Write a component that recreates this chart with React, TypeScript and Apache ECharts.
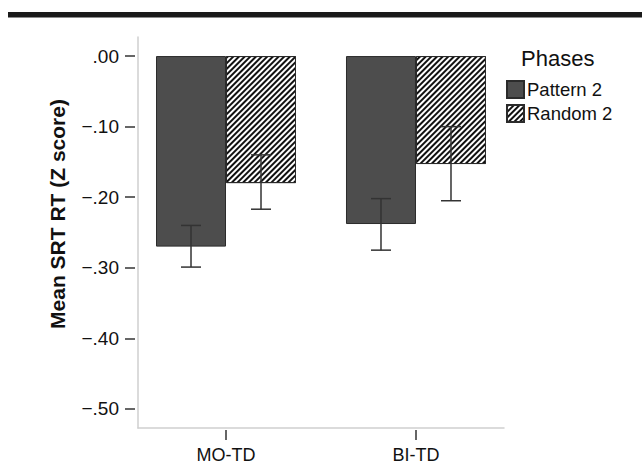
import React, { useEffect, useRef } from "react";
import * as echarts from "echarts";

const categories = ["MO-TD", "BI-TD"];
const seriesNames = ["Pattern 2", "Random 2"];
const pattern2Mean = [-0.27, -0.238];
const pattern2Low = [-0.299, -0.275];
const pattern2High = [-0.24, -0.202];
const random2Mean = [-0.18, -0.153];
const random2Low = [-0.217, -0.205];
const random2High = [-0.14, -0.1];
const yTicks = [0, -0.1, -0.2, -0.3, -0.4, -0.5];
const xTicks = [0, 1];

const FONT = "'Liberation Sans', Arial, Helvetica, sans-serif";
const BAR_W = 70;

function fmtY(v: number): string {
  const s = Math.abs(v).toFixed(2).replace(/^0/, "");
  return v < -1e-9 ? "\u2212" + s : s;
}

export default function App() {
  const ref = useRef<HTMLDivElement>(null);
  useEffect(() => {
    document.body.style.margin = "0";
    if (!ref.current) return;
    const chart = echarts.init(ref.current, null, { renderer: "svg" });
    const yMin = -0.527;
    const yMax = 0.027;
    const xMin = -0.4632;
    const xMax = 1.4632;

    const errRender = (side: number) => (params: any, api: any) => {
      const x = api.value(0);
      const lo = api.coord([x, api.value(1)]);
      const hi = api.coord([x, api.value(2)]);
      const cx = lo[0] + side * (BAR_W / 2);
      const style = { stroke: "#333", lineWidth: 1.5 };
      return {
        type: "group",
        children: [
          { type: "line", shape: { x1: cx, y1: lo[1], x2: cx, y2: hi[1] }, style },
          { type: "line", shape: { x1: cx - 10, y1: lo[1], x2: cx + 10, y2: lo[1] }, style },
          { type: "line", shape: { x1: cx - 10, y1: hi[1], x2: cx + 10, y2: hi[1] }, style },
        ],
      };
    };

    chart.setOption({
      animation: false,
      backgroundColor: "#fff",
      textStyle: { fontFamily: FONT },
      title: {
        text: "Phases",
        left: 521,
        top: 47,
        padding: 0,
        textStyle: { fontSize: 22, fontWeight: "normal", color: "#111", fontFamily: FONT },
      },
      legend: {
        data: seriesNames,
        orient: "vertical",
        left: 506,
        top: 80,
        padding: 0,
        itemWidth: 17,
        itemHeight: 17,
        itemGap: 5,
        icon: "rect",
        textStyle: { fontSize: 18.5, color: "#111", fontFamily: FONT, padding: [0, 0, 0, -2] },
      },
      grid: { left: 138, top: 37, right: 138, bottom: 42, containLabel: false },
      xAxis: [
        {
          type: "value",
          min: xMin,
          max: xMax,
          position: "bottom",
          offset: 2,
          axisLine: { show: false, onZero: false },
          splitLine: { show: false },
          axisTick: { show: true, customValues: xTicks, length: 10, lineStyle: { color: "#333", width: 1.5 } },
          axisLabel: {
            customValues: xTicks,
            formatter: (v: number) => categories[Math.round(v)] ?? "",
            fontSize: 18,
            color: "#111",
            margin: 16,
            fontFamily: FONT,
          },
        },
        {
          type: "value",
          min: xMin,
          max: xMax,
          position: "bottom",
          offset: 0,
          axisLine: { show: true, onZero: false, lineStyle: { color: "#cfcfcf", width: 1.5 } },
          splitLine: { show: false },
          axisTick: { show: false },
          axisLabel: { show: false },
        },
      ],
      yAxis: [
        {
          type: "value",
          min: yMin,
          max: yMax,
          position: "left",
          offset: 3,
          axisLine: { show: false, onZero: false },
          splitLine: { show: false },
          axisTick: { show: true, customValues: yTicks, length: 10, lineStyle: { color: "#333", width: 1.5 } },
          axisLabel: {
            customValues: yTicks,
            formatter: (v: number) => fmtY(v),
            fontSize: 19,
            color: "#111",
            margin: 16,
            fontFamily: FONT,
          },
        },
        {
          type: "value",
          min: yMin,
          max: yMax,
          position: "left",
          offset: 0,
          axisLine: { show: true, onZero: false, lineStyle: { color: "#cfcfcf", width: 1.5 } },
          splitLine: { show: false },
          axisTick: { show: false },
          axisLabel: { show: false },
        },
      ],
      graphic: [
        { type: "rect", shape: { x: 8, y: 12, width: 634, height: 5.5 }, style: { fill: "#1a1a1a" } },
        {
          type: "text",
          x: 57,
          y: 214,
          rotation: Math.PI / 2,
          style: {
            text: "Mean SRT RT (Z score)",
            font: `bold 21px ${FONT}`,
            fill: "#111",
            textAlign: "center",
            textVerticalAlign: "middle",
          },
        },
      ],
      series: [
        {
          name: seriesNames[0],
          type: "bar",
          xAxisIndex: 0,
          yAxisIndex: 0,
          barWidth: BAR_W,
          barGap: "0%",
          data: pattern2Mean.map((v, i) => [xTicks[i], v]),
          itemStyle: { color: "#4d4d4d", borderColor: "#2b2b2b", borderWidth: 1 },
        },
        {
          name: seriesNames[1],
          type: "bar",
          xAxisIndex: 0,
          yAxisIndex: 0,
          barWidth: BAR_W,
          barGap: "0%",
          data: random2Mean.map((v, i) => [xTicks[i], v]),
          itemStyle: {
            color: "#ffffff",
            borderColor: "#2b2b2b",
            borderWidth: 1,
            decal: {
              symbol: "rect",
              symbolSize: 1,
              color: "#111",
              dashArrayX: [1, 0],
              dashArrayY: [2, 2],
              rotation: -Math.PI / 4,
            },
          },
        },
        {
          type: "custom",
          xAxisIndex: 0,
          yAxisIndex: 0,
          renderItem: errRender(-1),
          data: pattern2Low.map((v, i) => [xTicks[i], v, pattern2High[i]]),
          encode: { x: 0, y: [1, 2] },
          z: 5,
          silent: true,
        },
        {
          type: "custom",
          xAxisIndex: 0,
          yAxisIndex: 0,
          renderItem: errRender(1),
          data: random2Low.map((v, i) => [xTicks[i], v, random2High[i]]),
          encode: { x: 0, y: [1, 2] },
          z: 5,
          silent: true,
        },
      ],
    });
    return () => chart.dispose();
  }, []);
  return <div ref={ref} style={{ width: 642, height: 470 }} />;
}
